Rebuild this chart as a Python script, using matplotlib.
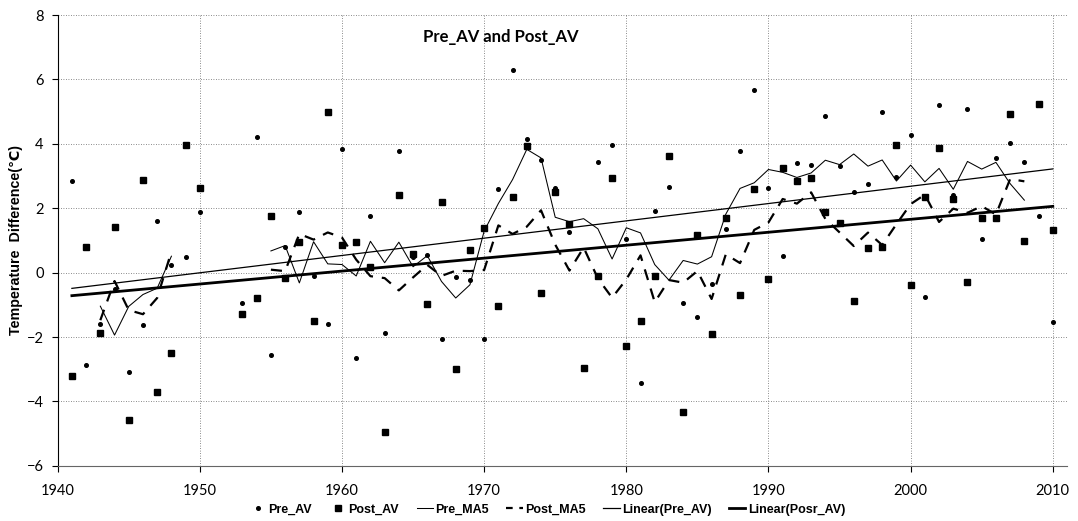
import numpy as np
import pandas as pd
import matplotlib
matplotlib.use("Agg")
import matplotlib.pyplot as plt
from matplotlib.lines import Line2D

# years with data (no values for 1951-1952)
years = list(range(1941, 1951)) + list(range(1953, 2011))

# pre-AV temperature difference (dots)
pre_av = [2.85, -2.86, -1.60, -0.50, -3.10, -1.64, 1.60, 0.24, 0.48, 1.87,
          -0.93, 4.20, -2.57, 0.80, 1.87, -0.10, -1.60, 3.83, -2.64, 1.77,
          -1.88, 3.79, 0.50, 0.55, -2.05, -0.15, -0.22, -2.07, 2.60, 6.29,
          4.14, 3.50, 2.62, 1.27, -2.93, 3.45, 3.97, 1.05, -3.42, 1.92,
          2.65, -0.95, -1.37, -0.36, 1.36, 3.79, 5.67, 2.62, 0.52, 3.42,
          3.35, 4.87, 3.32, 2.50, 2.74, 5.00, 2.98, 4.28, -0.77, 5.21,
          2.40, 5.07, 1.04, 3.55, 4.02, 3.45, 1.76, -1.52]

# post-AV temperature difference (squares)
post_av = [-3.20, 0.81, -1.86, 1.43, -4.57, 2.88, -3.70, -2.50, 3.96, 2.64,
           -1.28, -0.80, 1.75, -0.17, 0.96, -1.51, 4.98, 0.87, 0.94, 0.17,
           -4.94, 2.41, 0.57, -0.97, 2.19, -3.00, 0.70, 1.38, -1.03, 2.36,
           3.93, -0.64, 2.52, 1.51, -2.97, -0.10, 2.93, -2.27, -1.49, -0.12,
           3.63, -4.34, 1.17, -1.90, 1.69, -0.71, 2.60, -0.20, 3.26, 2.85,
           2.93, 1.88, 1.55, -0.87, 0.76, 0.81, 3.97, -0.38, 2.36, 3.88,
           2.29, -0.28, 1.69, 1.71, 4.92, 0.99, 5.23, 1.33]

x_ticks = list(range(1940, 2011, 10))
y_ticks = list(range(-6, 9, 2))

# centred 5-year moving averages (gap years stay empty)
full_years = range(1941, 2011)
pre_s = pd.Series(pre_av, index=years).reindex(full_years)
post_s = pd.Series(post_av, index=years).reindex(full_years)
pre_ma5 = pre_s.rolling(5, center=True).mean()
post_ma5 = post_s.rolling(5, center=True).mean()

# linear trends
yr = np.array(years)
pre_fit = np.polyfit(yr, pre_av, 1)
post_fit = np.polyfit(yr, post_av, 1)
trend_x = np.array([yr.min(), yr.max()])

fig = plt.figure(figsize=(10.78, 5.21), dpi=100)
ax = fig.add_axes([0.0535, 0.106, 0.9363, 0.865])

ax.plot(years, pre_av, linestyle="none", marker="o", markersize=2.6, color="black")
ax.plot(years, post_av, linestyle="none", marker="s", markersize=4.2, color="black")
ax.plot(pre_ma5.index, pre_ma5.values, color="black", linewidth=0.75)
ax.plot(post_ma5.index, post_ma5.values, color="black", linewidth=1.6, dashes=(5, 4))
ax.plot(trend_x, np.polyval(pre_fit, trend_x), color="black", linewidth=0.9)
ax.plot(trend_x, np.polyval(post_fit, trend_x), color="black", linewidth=2.0)

ax.set_xlim(1940, 2011)
ax.set_ylim(-6, 8)
ax.set_xticks(x_ticks)
ax.set_yticks(y_ticks)
ax.grid(True, linestyle=(0, (1, 2)), color="#666666", linewidth=0.6)
ax.set_axisbelow(True)
for s in ["top", "right"]:
    ax.spines[s].set_visible(False)
ax.spines["left"].set_color("black")
ax.spines["bottom"].set_color("#666666")
ax.tick_params(axis="both", labelsize=10.5, length=4, direction="out", pad=6)
for lab in ax.get_xticklabels() + ax.get_yticklabels():
    lab.set_family(["Lato", "DejaVu Sans"])
ax.tick_params(axis="x", pad=9)

ax.text(0.439, 0.952, "Pre_AV and Post_AV", transform=ax.transAxes, ha="center",
        va="center", fontsize=12, fontweight="bold", family=["Lato", "DejaVu Sans"])
ax.set_ylabel("Temperature  Difference(\u2103)", fontsize=10.3, fontweight="bold",
              family=["Liberation Sans", "DejaVu Sans"], labelpad=3)

handles = [
    Line2D([], [], linestyle="none", marker="o", markersize=2.6, color="black"),
    Line2D([], [], linestyle="none", marker="s", markersize=4.2, color="black"),
    Line2D([], [], color="black", linewidth=0.75),
    Line2D([], [], color="black", linewidth=1.6, dashes=(3, 3)),
    Line2D([], [], color="black", linewidth=0.9),
    Line2D([], [], color="black", linewidth=2.0),
]
labels = ["Pre_AV", "Post_AV", "Pre_MA5", "Post_MA5", "Linear(Pre_AV)", "Linear(Posr_AV)"]
fig.legend(handles, labels, loc="center", bbox_to_anchor=(0.508, 0.022), ncol=6,
           frameon=False, handlelength=1.3, handletextpad=0.2, columnspacing=1.4,
           prop={"family": ["Liberation Sans", "DejaVu Sans"], "weight": "bold", "size": 9})

fig.savefig("out.png", dpi=100)
